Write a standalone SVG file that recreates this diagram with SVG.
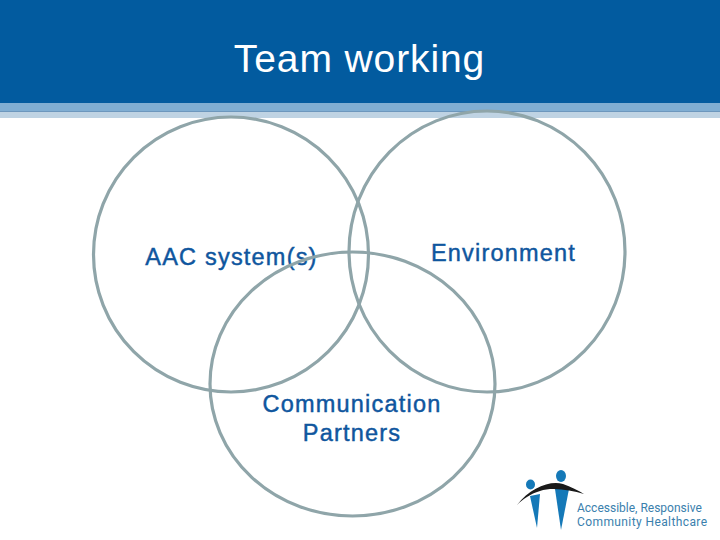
<svg xmlns="http://www.w3.org/2000/svg" width="720" height="540" viewBox="0 0 720 540">
<style>
.c{fill:none;stroke:#8fa5a9;stroke-width:3.2}
.l{font-family:"Liberation Sans",Arial,sans-serif;font-size:23.5px;fill:#0f569e;stroke:#0f569e;stroke-width:.45;text-anchor:middle;letter-spacing:1.2px}
.g{font-family:Roboto,sans-serif;font-size:12px;fill:#3a80ad}
.b{fill:#1579b8}
</style>
<rect width="720" height="540" fill="#fff"/>
<g id="header">
<rect width="720" height="103" fill="#025b9f"/>
<rect y="103" width="720" height="9" fill="#80aed3"/>
<rect y="111" width="720" height="1" fill="#6d97bd"/>
<rect y="112" width="720" height="6" fill="#bfd3e3"/>
<text x="359.500" y="72" font-family="'Liberation Sans',Arial,sans-serif" font-size="39" letter-spacing=".9" fill="#fff" text-anchor="middle">Team working</text>
</g>
<g id="connectors"></g>
<g id="node-aac"><circle class="c" cx="231" cy="254.500" r="137.500"/><text class="l" x="231.500" y="265">AAC system(s)</text></g>
<g id="node-environment"><ellipse class="c" cx="487" cy="251.500" rx="138" ry="140.500"/><text class="l" x="503.500" y="261">Environment</text></g>
<g id="node-partners"><ellipse class="c" cx="352.500" cy="384" rx="142.500" ry="132"/><text class="l" x="352" y="412">Communication</text><text class="l" x="352" y="441">Partners</text></g>
<g id="logo">
<ellipse class="b" cx="530.500" cy="484.500" rx="4.500" ry="5"/>
<ellipse class="b" cx="561" cy="476" rx="5" ry="6"/>
<path class="b" d="M530 496L540 494L537 528Z"/>
<path class="b" d="M555 489L569 489L561 530Z"/>
<path d="M517 505C530 488 550 480 563 484C571 487 578 490 584 494C570 490 552 487 540 491C530 494 523 499 517 505Z" fill="#1a1a1a"/>
<text class="g" x="577" y="511.500">Accessible, Responsive</text>
<text class="g" x="577" y="525.500" letter-spacing=".4">Community Healthcare</text>
</g>
</svg>
